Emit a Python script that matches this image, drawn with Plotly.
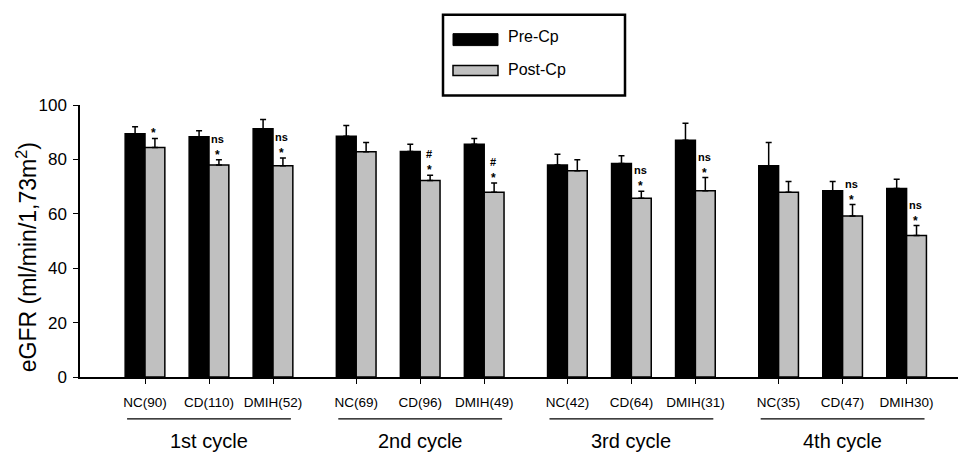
import plotly.graph_objects as go

categories = ["NC(90)", "CD(110)", "DMIH(52)", "NC(69)", "CD(96)", "DMIH(49)",
              "NC(42)", "CD(64)", "DMIH(31)", "NC(35)", "CD(47)", "DMIH30)"]
cycles = ["1st cycle", "2nd cycle", "3rd cycle", "4th cycle"]
pre_cp = [89.4, 88.3, 91.3, 88.5, 82.9, 85.6, 77.9, 78.5, 87.0, 77.7, 68.5, 69.3]
pre_err = [2.6, 2.2, 3.4, 4.0, 2.7, 2.1, 4.0, 2.8, 6.3, 8.5, 3.4, 3.4]
post_cp = [84.4, 77.9, 77.7, 82.8, 72.2, 67.9, 75.8, 65.7, 68.5, 67.9, 59.2, 52.0]
post_err = [3.3, 2.0, 2.8, 3.4, 2.0, 3.4, 4.1, 2.6, 4.8, 4.0, 4.2, 3.7]
sig_mark = ["", "ns", "ns", "", "#", "#", "", "ns", "ns", "", "ns", "ns"]
star_mark = ["*", "*", "*", "", "*", "*", "", "*", "*", "", "*", "*"]
y_ticks = [0, 20, 40, 60, 80, 100]

FONT = "Liberation Sans, Arial, sans-serif"
W, H = 962, 452
L, R, T, B = 80, 4, 104.5, 75
PW, PH = W - L - R, H - T - B
UNIT = 64.0
GAP = 3.3
BW = 0.31

pos = []
for g in range(4):
    for k in range(3):
        pos.append(g * GAP + k)


def px_x(px):
    return (px - L) / PW


def px_y(py):
    return (H - B - py) / PH


fig = go.Figure()
fig.add_trace(go.Bar(
    x=pos, y=pre_cp, width=BW, offset=-BW, name="Pre-Cp",
    marker=dict(color="#000000", line=dict(color="#000000", width=1.5)),
    error_y=dict(type="data", array=pre_err, arrayminus=[0] * len(pre_err),
                 symmetric=False, color="#000000", thickness=1.5, width=3),
))
fig.add_trace(go.Bar(
    x=pos, y=post_cp, width=BW, offset=0, name="Post-Cp",
    marker=dict(color="#c0c0c0", line=dict(color="#000000", width=1.5)),
    error_y=dict(type="data", array=post_err, arrayminus=[0] * len(post_err),
                 symmetric=False, color="#000000", thickness=1.5, width=3),
))

annotations = []
for i, p in enumerate(pos):
    top = post_cp[i] + post_err[i]
    if star_mark[i]:
        annotations.append(dict(x=p + 0.14, y=top, xref="x", yref="y", text="<b>" + star_mark[i] + "</b>",
                                showarrow=False, yanchor="middle", yshift=5,
                                font=dict(family=FONT, size=12, color="#000")))
    if sig_mark[i]:
        annotations.append(dict(x=p + 0.14, y=top, xref="x", yref="y", text="<b>" + sig_mark[i] + "</b>",
                                showarrow=False, yanchor="middle", yshift=21,
                                font=dict(family=FONT, size=11, color="#000")))

shapes = []
for g, name in enumerate(cycles):
    x0 = pos[g * 3] - 0.28
    x1 = pos[g * 3 + 2] + 0.28
    shapes.append(dict(type="line", xref="x", yref="paper", x0=x0, x1=x1,
                       y0=px_y(419), y1=px_y(419), line=dict(color="#000", width=1.2)))
    annotations.append(dict(x=pos[g * 3 + 1], y=px_y(441), xref="x", yref="paper",
                            text=name, showarrow=False, yanchor="middle",
                            font=dict(family=FONT, size=20, color="#000")))

# legend box
shapes.append(dict(type="rect", xref="paper", yref="paper",
                   x0=px_x(443), x1=px_x(625), y0=px_y(95), y1=px_y(14),
                   line=dict(color="#000", width=2.5), fillcolor="#fff"))
shapes.append(dict(type="rect", xref="paper", yref="paper",
                   x0=px_x(453), x1=px_x(498), y0=px_y(45), y1=px_y(33),
                   line=dict(color="#000", width=1), fillcolor="#000"))
shapes.append(dict(type="rect", xref="paper", yref="paper",
                   x0=px_x(453), x1=px_x(498), y0=px_y(75), y1=px_y(65),
                   line=dict(color="#000", width=1.5), fillcolor="#c0c0c0"))
annotations.append(dict(x=px_x(506), y=px_y(36), xref="paper", yref="paper", text="Pre-Cp",
                        showarrow=False, xanchor="left", yanchor="middle",
                        font=dict(family=FONT, size=16, color="#000")))
annotations.append(dict(x=px_x(506), y=px_y(69), xref="paper", yref="paper", text="Post-Cp",
                        showarrow=False, xanchor="left", yanchor="middle",
                        font=dict(family=FONT, size=16, color="#000")))

# y title
annotations.append(dict(x=px_x(27), y=px_y(257), xref="paper", yref="paper",
                        text="eGFR (ml/min/1,73m<sup>2</sup>)", textangle=-90,
                        showarrow=False, xanchor="center", yanchor="middle",
                        font=dict(family=FONT, size=23, color="#000")))

x_lo = -(145 - L) / UNIT
x_hi = x_lo + PW / UNIT

fig.update_layout(
    width=W, height=H,
    margin=dict(l=L, r=R, t=T, b=B, pad=0),
    paper_bgcolor="#fff", plot_bgcolor="#fff",
    showlegend=False,
    barmode="overlay",
    font=dict(family=FONT, color="#000"),
    shapes=shapes,
    annotations=annotations,
    xaxis=dict(range=[x_lo, x_hi], tickmode="array", tickvals=pos, ticktext=categories,
               showline=True, linecolor="#000", linewidth=1.5, ticks="outside", ticklen=5,
               tickwidth=1.2, tickcolor="#000", showgrid=False, zeroline=False,
               tickfont=dict(family=FONT, size=13.5, color="#000"), ticklabelstandoff=7),
    yaxis=dict(range=[0, 100], tickmode="array", tickvals=y_ticks,
               showline=True, linecolor="#000", linewidth=1.5, ticks="outside", ticklen=5,
               tickwidth=1.2, tickcolor="#000", showgrid=False, zeroline=False,
               tickfont=dict(family=FONT, size=17, color="#000"), ticklabelstandoff=3),
)

fig.write_html("out.html", config={"displayModeBar": False},
               post_script="document.body.style.margin='0';document.body.style.overflow='hidden';")
